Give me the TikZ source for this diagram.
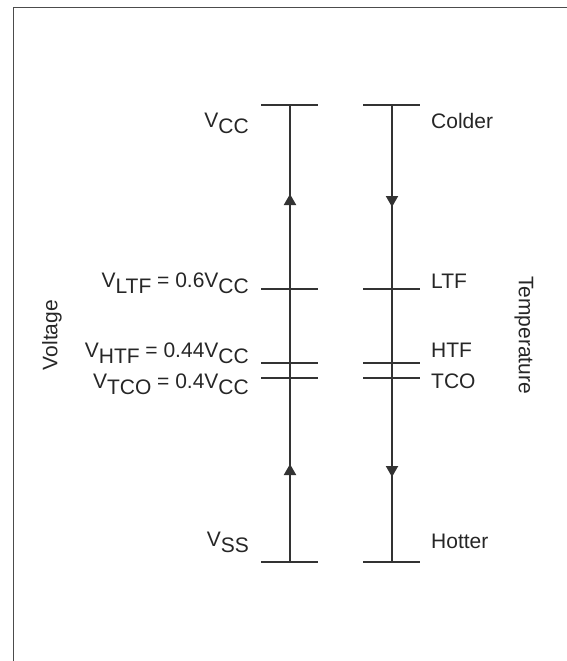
\documentclass[tikz,border=0pt]{standalone}
\usepackage{fontspec}
\setmainfont{Liberation Sans}
\usetikzlibrary{arrows.meta}
\newcommand\lsub[1]{\raisebox{-6pt}{#1}}
\begin{document}
\begin{tikzpicture}[x=1pt,y=-1pt,
  axline/.style={line width=2pt,draw=black!80},
  tickline/.style={line width=2pt,draw=black!80},
  lab/.style={font=\fontsize{21}{25}\selectfont, inner sep=0pt, text=black!85},
  tipa/.style={line width=2pt,draw=black!80,-{Triangle[width=12pt,length=11pt]}}]
\useasboundingbox (0,0) rectangle (567,661);
\draw[line width=0.8pt, black!70] (13,661) -- (13,7) -- (567,7);
% left axis
\coordinate (Lb) at (290,562);
\coordinate (Lt) at (290,105);
\draw[axline] (Lb) -- (Lt);
\coordinate (La1) at (290,215);
\coordinate (La1t) at (290,194);
\coordinate (La2) at (290,485);
\coordinate (La2t) at (290,464);
\draw[tipa] (La1) -- (La1t);
\draw[tipa] (La2) -- (La2t);
% right axis
\coordinate (Rb) at (392,562);
\coordinate (Rt) at (392,105);
\draw[axline] (Rt) -- (Rb);
\coordinate (Ra1) at (392,185);
\coordinate (Ra1t) at (392,207);
\coordinate (Ra2) at (392,455);
\coordinate (Ra2t) at (392,477);
\draw[tipa] (Ra1) -- (Ra1t);
\draw[tipa] (Ra2) -- (Ra2t);
% ticks
\foreach \n/\y in {cc/105, ltf/289, htf/363, tco/378, ss/562}{
  \coordinate (Ll\n) at (261,\y);
  \coordinate (Lr\n) at (318,\y);
  \coordinate (Rl\n) at (363,\y);
  \coordinate (Rr\n) at (420,\y);
  \draw[tickline] (Ll\n) -- (Lr\n);
  \draw[tickline] (Rl\n) -- (Rr\n);
}
% left labels
\node[lab, anchor=base east] (vcc) at (249,127) {V\lsub{CC}};
\node[lab, anchor=base east] (vltf) at (249,287) {V\lsub{LTF} = 0.6V\lsub{CC}};
\node[lab, anchor=base east] (vhtf) at (249,357) {V\lsub{HTF} = 0.44V\lsub{CC}};
\node[lab, anchor=base east] (vtco) at (249,388) {V\lsub{TCO} = 0.4V\lsub{CC}};
\node[lab, anchor=base east] (vss) at (249,546) {V\lsub{SS}};
% right labels
\node[lab, anchor=base west] (colder) at (431,128) {Colder};
\node[lab, anchor=base west] (ltf) at (431,288) {LTF};
\node[lab, anchor=base west] (htf) at (431,357) {HTF};
\node[lab, anchor=base west] (tco) at (431,388) {TCO};
\node[lab, anchor=base west] (hotter) at (431,548) {Hotter};
% axis titles
\node[lab, rotate=90] (volt) at (52,335) {Voltage};
\node[lab, rotate=-90] (temp) at (524,335) {Temperature};
\end{tikzpicture}
\end{document}
